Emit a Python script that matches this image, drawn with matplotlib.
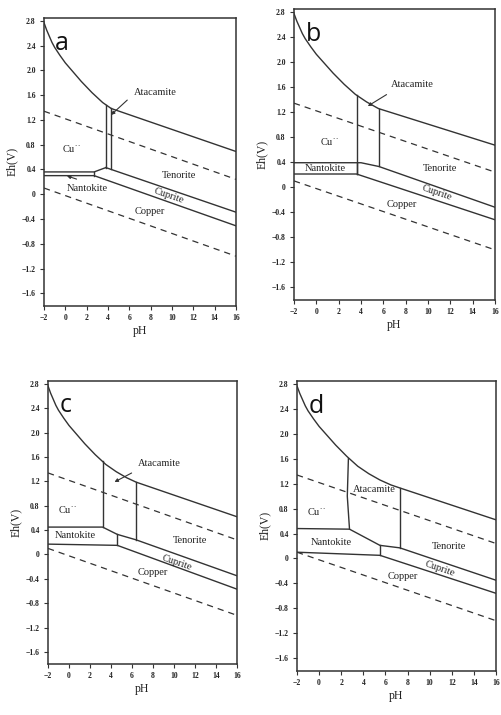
import matplotlib
matplotlib.use("Agg")
import matplotlib.pyplot as plt
import numpy as np

# upper boundary curve (pH, Eh), common to all panels
upper_ph = [-2, -1.75, -1.5, -1.25, -1, -0.5, 0, 0.5, 1, 1.5, 2, 2.5, 3, 3.5, 4, 4.5, 5, 5.5, 6, 6.5, 7, 7.5]
upper_eh = [2.77, 2.65, 2.55, 2.45, 2.37, 2.24, 2.12, 2.02, 1.92, 1.82, 1.73, 1.64, 1.56, 1.48, 1.42, 1.36, 1.31, 1.26, 1.22, 1.18, 1.15, 1.12]
# Eh at pH 16 where the straight tenorite top ends
upper_end = {"a": 0.69, "b": 0.67, "c": 0.62, "d": 0.62}
o2_ph, o2_eh = [-2, 16], [1.34, 0.24]
h2_ph, h2_eh = [-2, 16], [0.10, -1.00]

xticks = list(range(-2, 17, 2))
yticks = [2.8, 2.4, 2.0, 1.6, 1.2, 0.8, 0.4, 0, -0.4, -0.8, -1.2, -1.6]

# per panel: atacamite left/right pH and their bottom Eh
atac_a = [(3.8, 0.43), (4.3, 0.40)]
atac_b = [(3.6, 0.21), (5.6, 0.33)]
atac_c = [(3.2, 0.45), (6.4, 0.24)]
atac_d = [(2.75, 0.47), (7.3, 0.17)]

# other phase boundaries, as polylines (pH list, Eh list)
lines_a = [
    ([-2, 2.7, 3.8], [0.36, 0.36, 0.43]),
    ([-2, 2.7, 16], [0.30, 0.30, -0.51]),
    ([2.7, 2.7], [0.36, 0.30]),
    ([3.8, 4.3, 16], [0.43, 0.40, -0.29]),
]
lines_b = [
    ([-2, 4.0, 5.6, 16], [0.39, 0.39, 0.33, -0.32]),
    ([-2, 3.6, 16], [0.21, 0.21, -0.52]),
]
lines_c = [
    ([-2, 3.2, 4.6, 6.4, 16], [0.45, 0.45, 0.33, 0.24, -0.35]),
    ([-2, 4.6, 16], [0.17, 0.15, -0.57]),
    ([4.6, 4.6], [0.33, 0.15]),
]
lines_d = [
    ([-2, 2.75, 5.5, 7.3, 16], [0.48, 0.47, 0.21, 0.17, -0.35]),
    ([-2, 5.5, 16], [0.10, 0.05, -0.56]),
    ([5.5, 5.5], [0.21, 0.05]),
]

# labels: (text, pH, Eh, rotation)
labels_a = [("Cu$^{\\cdot\\cdot}$", 0.6, 0.72, 0), ("Nantokite", 2.1, 0.09, 0), ("Tenorite", 10.7, 0.31, 0),
            ("Cuprite", 9.7, -0.02, -19), ("Copper", 7.9, -0.28, 0), ("Atacamite", 8.4, 1.64, 0)]
labels_b = [("Cu$^{\\cdot\\cdot}$", 1.2, 0.72, 0), ("Nantokite", 0.8, 0.30, 0), ("Tenorite", 11.1, 0.29, 0),
            ("Cuprite", 10.8, -0.09, -19), ("Copper", 7.7, -0.27, 0), ("Atacamite", 8.6, 1.64, 0)]
labels_c = [("Cu$^{\\cdot\\cdot}$", -0.1, 0.73, 0), ("Nantokite", 0.6, 0.31, 0), ("Tenorite", 11.5, 0.23, 0),
            ("Cuprite", 10.3, -0.13, -19), ("Copper", 8.0, -0.29, 0), ("Atacamite", 8.6, 1.50, 0)]
labels_d = [("Cu$^{\\cdot\\cdot}$", -0.2, 0.75, 0), ("Nantokite", 1.1, 0.25, 0), ("Tenorite", 11.8, 0.19, 0),
            ("Cuprite", 10.9, -0.17, -19), ("Copper", 7.6, -0.29, 0), ("Atacamite", 5.0, 1.10, 0)]

# arrows: (tail pH, tail Eh, head pH, head Eh)
arrows_a = [(6.0, 1.55, 4.1, 1.25), (1.3, 0.23, -0.1, 0.31)]
arrows_b = [(6.5, 1.50, 4.4, 1.27)]
arrows_c = [(6.2, 1.36, 4.1, 1.17)]
arrows_d = []

panels = [
    ("a", [0.0878, 0.5724, 0.3832, 0.4029], atac_a, lines_a, labels_a, arrows_a),
    ("b", [0.5868, 0.5804, 0.4012, 0.4077], atac_b, lines_b, labels_b, arrows_b),
    ("c", [0.0958, 0.0713, 0.3772, 0.3958], atac_c, lines_c, labels_c, arrows_c),
    ("d", [0.5928, 0.0622, 0.3972, 0.4050], atac_d, lines_d, labels_d, arrows_d),
]

ink = "#333333"
serif = "Liberation Serif"

fig = plt.figure(figsize=(5.01, 7.15), dpi=100)

for letter, pos, atac, lines, labels, arrows in panels:
    ax = fig.add_axes(pos)

    # upper boundary: curve up to right atacamite edge, then straight to pH 16
    p_right = atac[1][0]
    e_right = np.interp(p_right, upper_ph, upper_eh)
    ux = [p for p in upper_ph if p < p_right] + [p_right, 16]
    uy = [e for p, e in zip(upper_ph, upper_eh) if p < p_right] + [e_right, upper_end[letter]]
    ax.plot(ux, uy, color=ink, lw=1.0)

    ax.plot(o2_ph, o2_eh, color=ink, lw=0.9, ls=(0, (5, 4)))
    ax.plot(h2_ph, h2_eh, color=ink, lw=0.9, ls=(0, (5, 4)))
    for i, (p, e) in enumerate(atac):
        top = np.interp(p, ux, uy)
        if letter == "d" and i == 0:
            # left edge in d bows slightly
            ax.plot([p - 0.1, p - 0.2, p], [top, 1.0, e], color=ink, lw=1.0)
        else:
            ax.plot([p, p], [top, e], color=ink, lw=1.0)
    if letter == "b":
        ax.plot([3.6, 3.6], [0.39, 0.21], color=ink, lw=1.0)
    for xs, ys in lines:
        ax.plot(xs, ys, color=ink, lw=1.0)
    for txt, x, y, rot in labels:
        ax.text(x, y, txt, fontsize=7.5, family=serif, color="#222222",
                ha="center", va="center", rotation=rot)
    for x0, y0, x1, y1 in arrows:
        ax.annotate("", xy=(x1, y1), xytext=(x0, y0),
                    arrowprops=dict(arrowstyle="-|>", color=ink, lw=0.8,
                                    mutation_scale=5))
    ax.text(0.095, 0.912, letter, transform=ax.transAxes, fontsize=18,
            family="Open Sans", color="#111111", ha="center", va="center")

    ax.set_xlim(-2, 16)
    ax.set_ylim(-1.8, 2.85)
    ax.set_xticks(xticks)
    ax.set_xticklabels([str(t).replace("-", "\u2212") for t in xticks])
    ax.set_yticks(yticks)
    ax.set_yticklabels([("0" if t == 0 else f"{t:.1f}").replace("-", "\u2212") for t in yticks])
    ax.tick_params(direction="out", length=3, width=0.8, color=ink, pad=3,
                   labelsize=5.5, labelcolor="#222222")
    for lab in ax.get_xticklabels() + ax.get_yticklabels():
        lab.set_family(serif)
        lab.set_fontweight("bold")
    for s in ax.spines.values():
        s.set_color(ink)
        s.set_linewidth(1.1)
    ax.set_xlabel("pH", fontsize=8.5, family=serif, color="#222222", labelpad=2)
    ax.set_ylabel("Eh(V)", fontsize=8.5, family=serif, color="#222222", labelpad=3)

fig.savefig("out.png", dpi=100, facecolor="white")
